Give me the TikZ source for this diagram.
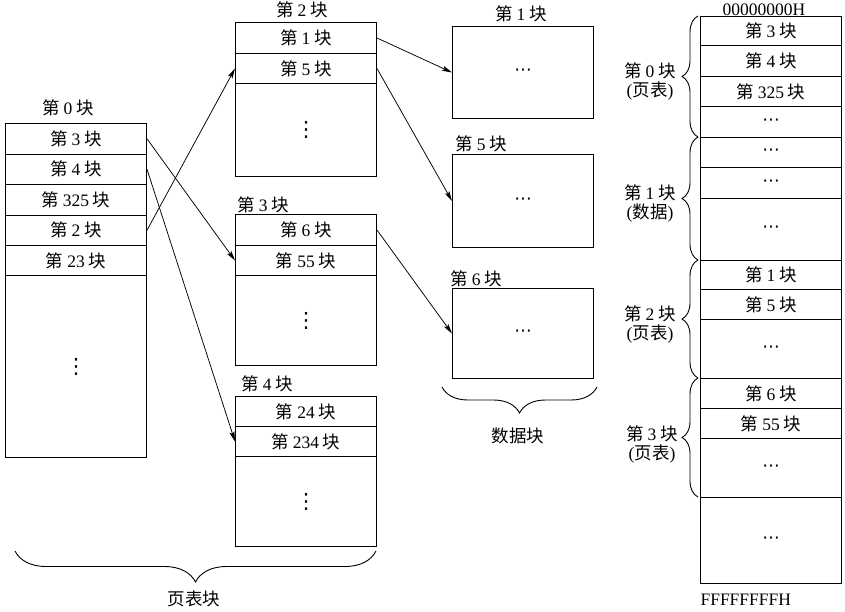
\documentclass[tikz,border=0pt]{standalone}
\usepackage{fontspec}
\setmainfont{Liberation Serif}
\newfontfamily\cjk{Noto Sans CJK SC}
\newfontfamily\sym{DejaVu Sans}
\usetikzlibrary{arrows.meta, decorations.pathreplacing}
\newcommand{\kuai}[1]{{\cjk 第}\hspace{0.22em}#1\hspace{0.22em}{\cjk 块}}
\newcommand{\vdt}{{\sym\fontsize{21}{21}\selectfont ⋮}}
\newcommand{\hdt}{{\sym ⋯}}
\tikzset{
  cell/.style={draw, line width=1pt, anchor=north west, inner sep=0pt, minimum width=141pt},
  link/.style={-{Stealth[length=10pt,width=5pt,inset=2pt]}, line width=0.75pt},
  brc/.style={decorate, decoration={brace, amplitude=#1}, line width=0.9pt},
}

\begin{document}
\begin{tikzpicture}[x=1pt,y=-1pt,font=\fontsize{17.5}{19}\selectfont]
\useasboundingbox (0,0) rectangle (845,611);

% page table block 0
\node (t0) at (68,108) {\kuai{0}};
\node[cell, minimum height=30.5pt] (a1) at (5,123)   {\kuai{3}};
\node[cell, minimum height=30.5pt] (a2) at (5,153.5) {\kuai{4}};
\node[cell, minimum height=30.5pt] (a3) at (5,184)   {\kuai{325}};
\node[cell, minimum height=30.5pt] (a4) at (5,214.5) {\kuai{2}};
\node[cell, minimum height=30pt]   (a5) at (5,245)   {\kuai{23}};
\node[cell, minimum height=182pt]  (a6) at (5,275)   {\vdt};

% page table block 2
\node (t2) at (302,10) {\kuai{2}};
\node[cell, minimum height=31pt] (b1) at (235,22) {\kuai{1}};
\node[cell, minimum height=30pt] (b2) at (235,53) {\kuai{5}};
\node[cell, minimum height=93pt] (b3) at (235,83) {\vdt};

% page table block 3
\node[anchor=west] (t3) at (234,205) {\kuai{3}};
\node[cell, minimum height=31pt] (c1) at (235,214) {\kuai{6}};
\node[cell, minimum height=30pt] (c2) at (235,245) {\kuai{55}};
\node[cell, minimum height=90pt] (c3) at (235,275) {\vdt};

% page table block 4
\node[anchor=west] (t4) at (238,384) {\kuai{4}};
\node[cell, minimum height=30pt] (e1) at (235,396) {\kuai{24}};
\node[cell, minimum height=30pt] (e2) at (235,426) {\kuai{234}};
\node[cell, minimum height=90pt] (e3) at (235,456) {\vdt};

% data blocks
\node (dt1) at (521,14) {\kuai{1}};
\node[cell, minimum height=92pt] (d1) at (452,26) {\hdt};
\node[anchor=west] (dt5) at (452,144) {\kuai{5}};
\node[cell, minimum height=93pt] (d5) at (452,154) {\hdt};
\node[anchor=west] (dt6) at (447,279) {\kuai{6}};
\node[cell, minimum height=90pt] (d6) at (452,288) {\hdt};

% pointers
\draw[link] (a1.east) -- (c2.west);
\draw[link] (a2.east) -- (e2.west);
\draw[link] (a4.east) -- (b2.west);
\draw[link] (b1.east) -- (d1.west);
\draw[link] (b2.east) -- (d5.west);
\draw[link] (c1.east) -- (d6.west);

% group braces
\draw[brc=31] (376,551) -- (15,551);
\node (lp) at (194,599) {{\cjk 页表块}};
\draw[brc=26] (597,387) -- (442,387);
\node (ld) at (518,436) {{\cjk 数据块}};

% disk layout
\node[anchor=south, inner sep=1pt] (top) at (764,17) {00000000H};
\node[cell, minimum height=29pt] (r1)  at (700,16)  {\kuai{3}};
\node[cell, minimum height=31pt] (r2)  at (700,45)  {\kuai{4}};
\node[cell, minimum height=30pt] (r3)  at (700,76)  {\kuai{325}};
\node[cell, minimum height=31pt] (r4)  at (700,106) {\hdt};
\node[cell, minimum height=30pt] (r5)  at (700,137) {\hdt};
\node[cell, minimum height=31pt] (r6)  at (700,167) {\hdt};
\node[cell, minimum height=62pt] (r7)  at (700,198) {\hdt};
\node[cell, minimum height=29pt] (r8)  at (700,260) {\kuai{1}};
\node[cell, minimum height=30pt] (r9)  at (700,289) {\kuai{5}};
\node[cell, minimum height=59pt] (r10) at (700,319) {\hdt};
\node[cell, minimum height=30pt] (r11) at (700,378) {\kuai{6}};
\node[cell, minimum height=30pt] (r12) at (700,408) {\kuai{55}};
\node[cell, minimum height=59pt] (r13) at (700,438) {\hdt};
\node[cell, minimum height=86pt] (r14) at (700,497) {\hdt};
\node[anchor=west] (bot) at (697,600) {FFFFFFFFH};

\draw[brc=16] (698,137) -- (698,16);
\draw[brc=16] (698,260) -- (698,137);
\draw[brc=16] (698,378) -- (698,260);
\draw[brc=16] (698,497) -- (698,378);
\node[align=center, inner sep=0pt] (m0) at (650,81)  {\kuai{0}\\({\cjk 页表})};
\node[align=center, inner sep=0pt] (m1) at (650,203) {\kuai{1}\\({\cjk 数据})};
\node[align=center, inner sep=0pt] (m2) at (650,324) {\kuai{2}\\({\cjk 页表})};
\node[align=center, inner sep=0pt] (m3) at (652,444) {\kuai{3}\\({\cjk 页表})};
\end{tikzpicture}
\end{document}
